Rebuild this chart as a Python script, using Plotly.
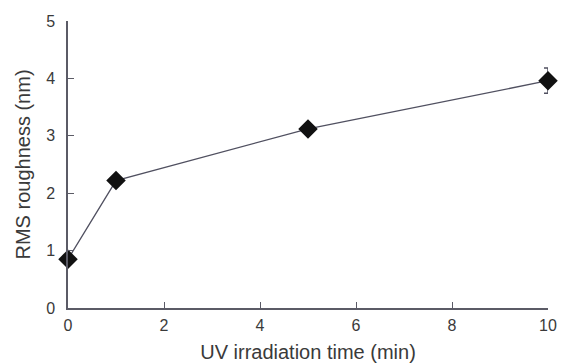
import plotly.graph_objects as go

uv_time = [0, 1, 5, 10]
rms_roughness = [0.85, 2.22, 3.12, 3.96]
rms_error = [0.05, 0.07, 0.06, 0.22]
x_ticks = [0, 2, 4, 6, 8, 10]
y_ticks = [0, 1, 2, 3, 4, 5]

axis_color = "#5b5b66"
text_color = "#3a3a3a"
font_family = "Liberation Sans, Arial, sans-serif"

fig = go.Figure()
fig.add_trace(go.Scatter(
    x=uv_time, y=rms_roughness,
    mode="lines+markers",
    line=dict(color="#505060", width=1.3),
    marker=dict(symbol="diamond", size=15, color="#111111"),
    error_y=dict(type="data", array=rms_error, visible=True,
                 color="#505060", thickness=1.5, width=4),
    showlegend=False,
    cliponaxis=False,
))

fig.update_layout(
    width=578, height=355,
    margin=dict(l=60, r=38, t=13, b=55),
    paper_bgcolor="white", plot_bgcolor="white",
    font=dict(family=font_family, color=text_color, size=16),
    xaxis=dict(
        range=[0, 10], tickvals=x_ticks, ticks="inside", ticklen=6,
        tickcolor=axis_color, showline=True, linecolor=axis_color, linewidth=1.5,
        showgrid=False, zeroline=False,
        tickfont=dict(size=16, color=text_color),
        ticklabelstandoff=2,
        title=dict(text="UV irradiation time (min)", font=dict(size=20, color=text_color), standoff=14),
        automargin=False,
    ),
    yaxis=dict(
        range=[0, 5], tickvals=y_ticks, ticks="inside", ticklen=6,
        tickcolor=axis_color, showline=True, linecolor=axis_color, linewidth=1.5,
        showgrid=False, zeroline=False,
        tickfont=dict(size=16, color=text_color),
        ticklabelstandoff=8,
        title=dict(text="RMS roughness (nm)", font=dict(size=20, color=text_color), standoff=10),
        automargin=False,
    ),
)

fig.write_html("out.html")
